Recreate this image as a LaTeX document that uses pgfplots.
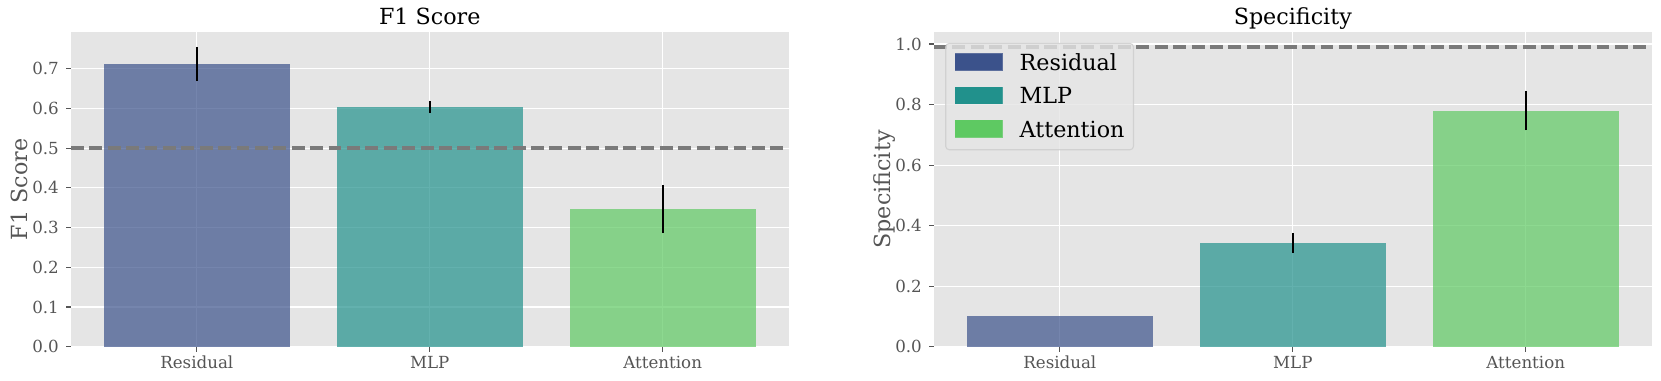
\documentclass[border=0pt]{standalone}
\usepackage{fontspec}
\setmainfont{DejaVu Serif}
\usepackage{pgfplots}
\pgfplotsset{compat=1.18}
\definecolor{c1}{HTML}{3B528B}
\definecolor{c2}{HTML}{21918C}
\definecolor{c3}{HTML}{5EC962}
\definecolor{bg}{HTML}{E5E5E5}
\definecolor{tk}{HTML}{555555}
\definecolor{lg}{HTML}{CCCCCC}
\definecolor{dl}{HTML}{7A7A7A}
\pgfplotsset{
  ggbase/.style={
    scale only axis, width=516.6pt, height=226.4pt,
    xmin=-0.54, xmax=2.54, ymin=0,
    axis background/.style={fill=bg},
    axis line style={draw=none},
    grid=major, major grid style={white, line width=0.8pt},
    tick align=outside, major tick length=3.5pt,
    tick style={tk, line width=0.8pt},
    xtick pos=bottom, ytick pos=left,
    xtick={0,1,2}, xticklabels={Residual,MLP,Attention},
    tick label style={font=\fontsize{12}{14}\selectfont, text=tk},
    xticklabel style={anchor=base, inner sep=0pt, yshift=-12.5pt},
    yticklabel style={anchor=east, inner sep=0pt, xshift=-5.1pt},
    yticklabel={\pgfmathprintnumber[fixed, fixed zerofill, precision=1, assume math mode=true]{\tick}},
    every axis title shift=0pt,
    title style={font=\fontsize{16}{19}\selectfont, at={(axis description cs:0.5,1)}, anchor=base, yshift=5.3pt},
    ylabel style={font=\fontsize{16}{19}\selectfont, text=tk, anchor=base, at={(axis description cs:-0.0613,0.5)}},
  },
  mybar/.style={ybar, bar width=0.8, bar shift=0pt, draw=none, fill=#1, fill opacity=0.7,
    error bars/y dir=both, error bars/y explicit, error bars/error mark=none,
    error bars/error bar style={black, line width=1.5pt, draw opacity=1}},
  refline/.style={color=dl, line width=2.5pt, dash pattern=on 9.25pt off 4pt},
}
\begin{document}
\begin{tikzpicture}
\path[use as bounding box] (0,0) rectangle (1195.92pt,273.6pt);
% ---- F1 Score ----
\begin{axis}[ggbase, at={(51.12pt,24pt)}, anchor=south west,
  ymax=0.792, ytick={0,0.1,...,0.7},
  title={F1 Score}, ylabel={F1 Score}]
\addplot[mybar=c1] coordinates {(0,0.712) +- (0,0.043)};
\addplot[mybar=c2] coordinates {(1,0.604) +- (0,0.016)};
\addplot[mybar=c3] coordinates {(2,0.346) +- (0,0.060)};
\addplot[refline] coordinates {(-0.54,0.5) (2.54,0.5)};
\end{axis}
% ---- Specificity ----
\begin{axis}[ggbase, at={(672.5pt,24pt)}, anchor=south west,
  ymax=1.039, ytick={0,0.2,...,1.0},
  title={Specificity}, ylabel={Specificity},
  legend style={at={(axis description cs:0,1)}, anchor=north west, xshift=8pt, yshift=-7.7pt,
    fill=bg, fill opacity=0.8, draw=lg, draw opacity=0.8, text opacity=1, line width=0.8pt,
    rounded corners=2.5pt, inner xsep=6.5pt, inner ysep=4pt,
    font=\fontsize{16}{19}\selectfont, row sep=3.5pt,
    nodes={inner sep=0pt, text height=15.4pt, text depth=5.1pt, anchor=base west}},
  legend cell align=left]
\addplot[forget plot, mybar=c1] coordinates {(0,0.101) +- (0,0)};
\addplot[forget plot, mybar=c2] coordinates {(1,0.342) +- (0,0.032)};
\addplot[forget plot, mybar=c3] coordinates {(2,0.780) +- (0,0.065)};
\addplot[forget plot, refline] coordinates {(-0.54,0.99) (2.54,0.99)};
\addlegendimage{legend image code/.code={\fill[c1, fill opacity=1, sharp corners] (0pt,0pt) rectangle (33.6pt,12pt); \path (46pt,0pt);}}
\addlegendentry{Residual}
\addlegendimage{legend image code/.code={\fill[c2, fill opacity=1, sharp corners] (0pt,0pt) rectangle (33.6pt,12pt); \path (46pt,0pt);}}
\addlegendentry{MLP}
\addlegendimage{legend image code/.code={\fill[c3, fill opacity=1, sharp corners] (0pt,0pt) rectangle (33.6pt,12pt); \path (46pt,0pt);}}
\addlegendentry{Attention}
\end{axis}
\end{tikzpicture}
\end{document}
